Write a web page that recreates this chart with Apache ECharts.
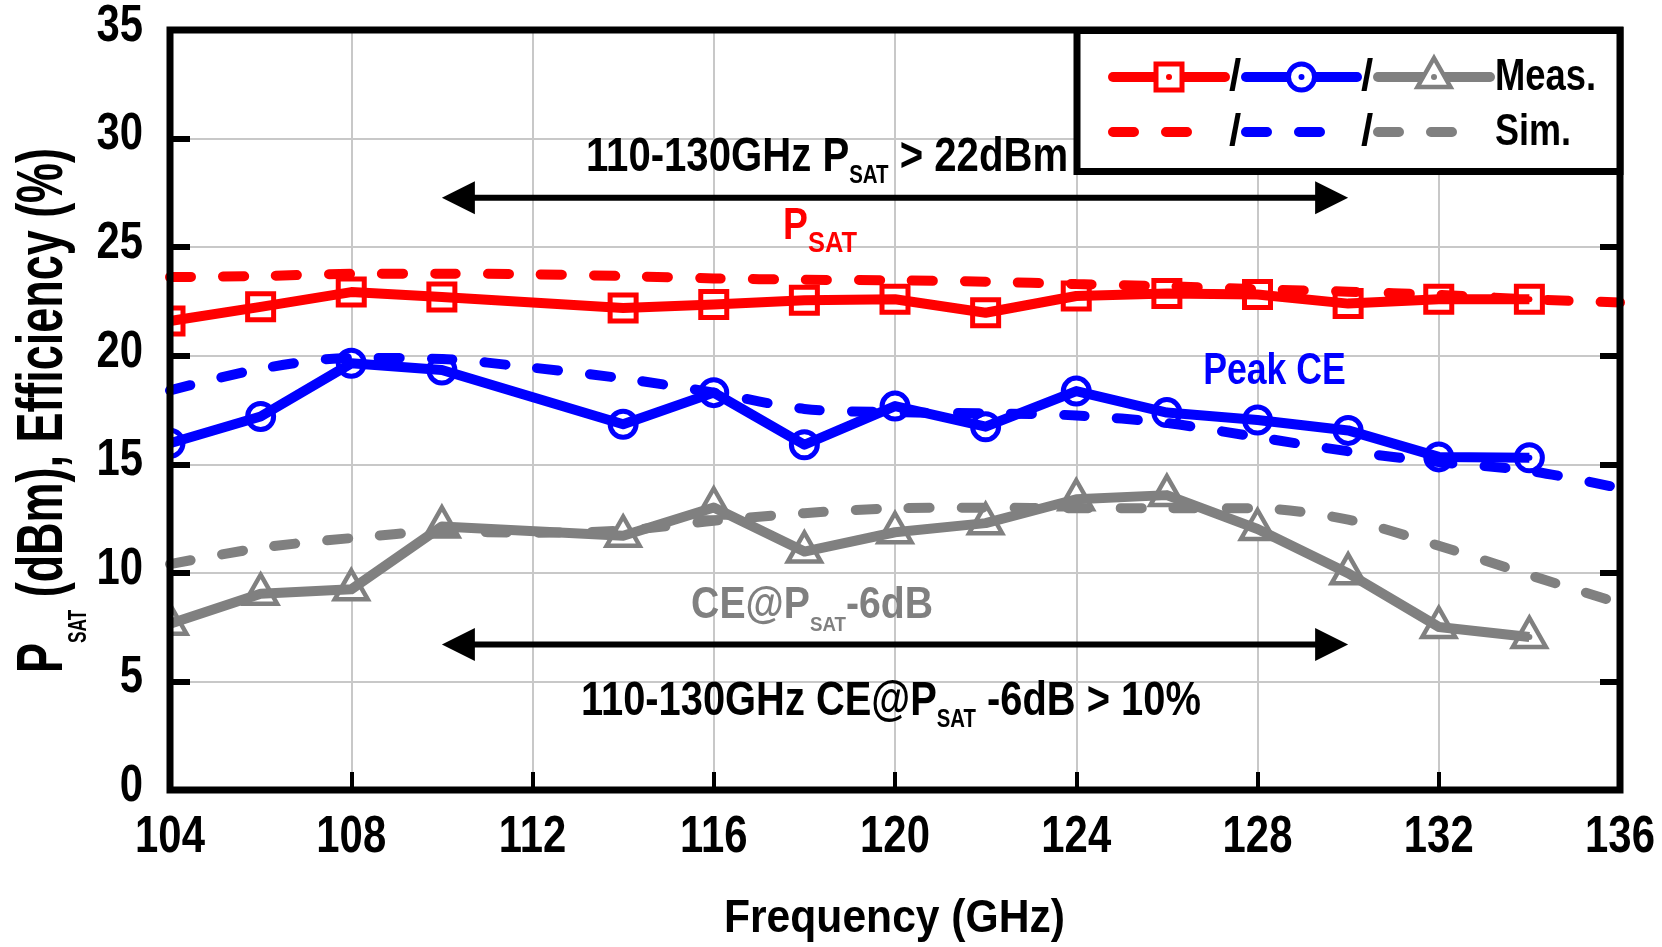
<!DOCTYPE html>
<html>
<head>
<meta charset="utf-8">
<script src="https://cdn.jsdelivr.net/npm/echarts@6/dist/echarts.min.js"></script>
<style>
  html, body { margin: 0; padding: 0; background: #fff; }
  #chart { width: 1662px; height: 947px; }
</style>
</head>
<body>
<div id="chart"></div>
<script>
// ---- axis ranges and tick labels ----
const X_MIN = 104, X_MAX = 136, X_STEP = 4;
const Y_MIN = 0, Y_MAX = 35, Y_STEP = 5;
const xTickLabels = [104, 108, 112, 116, 120, 124, 128, 132, 136];
const yTickLabels = [0, 5, 10, 15, 20, 25, 30, 35];

// ---- measured data (GHz) ----
const freqMeas = [104, 106, 108, 110, 114, 116, 118, 120, 122, 124, 126, 128, 130, 132, 134];
const psatMeas = [21.6, 22.25, 22.93, 22.7, 22.2, 22.36, 22.55, 22.6, 21.98, 22.75, 22.87, 22.82, 22.4, 22.6, 22.6];
const peakCeMeas = [15.97, 17.2, 19.65, 19.34, 16.84, 18.3, 15.9, 17.68, 16.73, 18.37, 17.38, 17.04, 16.56, 15.34, 15.3];
const ce6dbMeas = [7.66, 9.04, 9.24, 12.14, 11.71, 13.01, 10.98, 11.87, 12.29, 13.39, 13.58, 12.02, 9.98, 7.51, 7.05];

// ---- simulated data (GHz) ----
const freqSim = [104, 106, 108, 110, 112, 114, 116, 118, 120, 122, 124, 126, 128, 130, 132, 134, 136];
const psatSim = [23.62, 23.67, 23.77, 23.78, 23.75, 23.67, 23.56, 23.5, 23.47, 23.41, 23.3, 23.2, 23.06, 22.95, 22.8, 22.6, 22.45];
const peakCeSim = [18.4, 19.4, 19.9, 19.85, 19.45, 18.95, 18.3, 17.55, 17.4, 17.35, 17.25, 16.9, 16.25, 15.6, 15.1, 14.7, 13.9];
const ce6dbSim = [10.4, 11.15, 11.6, 11.9, 11.85, 11.95, 12.4, 12.75, 12.97, 13.0, 12.98, 12.98, 12.97, 12.45, 11.25, 9.9, 8.6];

// ---- annotations (data coordinates) ----
const rangeArrows = [
  { from: 110, to: 130, y: 27.27 },
  { from: 110, to: 130, y: 6.70 }
];
const notes = [
  { x0: 113.18, x1: 123.82, y: 28.35, color: '#000',
    parts: [{ t: '110-130GHz P', size: 49 }, { t: 'SAT', size: 25, dy: 10 }, { t: ' > 22dBm', size: 49 }] },
  { x0: 117.53, x1: 119.16, y: 25.22, color: '#ff0000',
    parts: [{ t: 'P', size: 44 }, { t: 'SAT', size: 30, dy: 12 }] },
  { x0: 126.8, x1: 129.95, y: 18.54, color: '#0000ff',
    parts: [{ t: 'Peak CE', size: 44 }] },
  { x0: 115.5, x1: 120.84, y: 7.76, color: '#808080',
    parts: [{ t: 'CE@P', size: 44 }, { t: 'SAT', size: 21, dy: 11 }, { t: '-6dB', size: 44 }] },
  { x0: 113.07, x1: 126.75, y: 3.29, color: '#000',
    parts: [{ t: '110-130GHz CE@P', size: 49 }, { t: 'SAT', size: 25, dy: 10 }, { t: ' -6dB > 10%', size: 49 }] }
];

const FONT = '"Liberation Sans Narrow", "Arial Narrow", "Liberation Sans", Arial, sans-serif';
const RED = '#ff0000', BLUE = '#0000ff', GRAY = '#808080';
const MID = 0.3467;     // distance from em-box middle to baseline, in em
const NARROW = 0.82;    // horizontal squeeze for the condensed face

const zip = (xs, ys) => xs.map((x, i) => [x, ys[i]]);

// marker shapes centred on a point
function markerShapes(kind, cx, cy, color, z) {
  let outline;
  if (kind === 'square') {
    outline = { type: 'rect', shape: { x: cx - 13, y: cy - 13, width: 26, height: 26 },
      style: { fill: '#fff', stroke: color, lineWidth: 5 } };
  } else if (kind === 'circle') {
    outline = { type: 'circle', shape: { cx: cx, cy: cy, r: 13 },
      style: { fill: '#fff', stroke: color, lineWidth: 5 } };
  } else {
    outline = { type: 'polygon', shape: { points: [[cx, cy - 19], [cx + 16.5, cy + 10], [cx - 16.5, cy + 10]] },
      style: { fill: '#fff', stroke: color, lineWidth: 4.5, lineJoin: 'miter' } };
  }
  const dot = { type: 'circle', shape: { cx: cx, cy: cy, r: 3 }, style: { fill: color } };
  if (z != null) { outline.z = z; dot.z = z; }
  return [outline, dot];
}

function measLine(name, xs, ys, color) {
  return { name: name, type: 'line', data: zip(xs, ys), symbol: 'none', clip: true,
    lineStyle: { color: color, width: 10, join: 'round' }, z: 2 };
}
function measMarkers(name, xs, ys, color, kind) {
  return { name: name, type: 'custom', coordinateSystem: 'cartesian2d', clip: true, z: 2,
    encode: { x: 0, y: 1 }, data: zip(xs, ys),
    renderItem: function (params, api) {
      const p = api.coord([api.value(0), api.value(1)]);
      return { type: 'group', children: markerShapes(kind, p[0], p[1], color) };
    } };
}
function simLine(name, xs, ys, color) {
  return { name: name, type: 'line', data: zip(xs, ys), symbol: 'none', clip: true, smooth: 0.3,
    lineStyle: { color: color, width: 10, type: [21, 32], cap: 'round' }, z: 2 };
}

const chart = echarts.init(document.getElementById('chart'), null, { renderer: 'canvas' });
chart.setOption({
  animation: false,
  backgroundColor: '#fff',
  grid: { left: 170, right: 42, top: 30, bottom: 157 },
  xAxis: {
    type: 'value', min: X_MIN, max: X_MAX, interval: X_STEP,
    axisLine: { show: false },
    axisTick: { show: true, inside: true, length: 18, lineStyle: { color: '#000', width: 4 } },
    splitLine: { show: true, showMinLine: false, showMaxLine: false, lineStyle: { color: '#c8c8c8', width: 2 } },
    axisLabel: { show: false }
  },
  yAxis: [
    { type: 'value', min: Y_MIN, max: Y_MAX, interval: Y_STEP, position: 'left',
      axisLine: { show: false },
      axisTick: { show: true, inside: true, length: 20, lineStyle: { color: '#000', width: 6 } },
      splitLine: { show: true, showMinLine: false, showMaxLine: false, lineStyle: { color: '#c8c8c8', width: 2 } },
      axisLabel: { show: false } },
    { type: 'value', min: Y_MIN, max: Y_MAX, interval: Y_STEP, position: 'right',
      axisLine: { show: false },
      axisTick: { show: true, inside: true, length: 20, lineStyle: { color: '#000', width: 6 } },
      splitLine: { show: false }, axisLabel: { show: false } }
  ],
  series: [
    measLine('PSAT meas', freqMeas, psatMeas, RED),
    measLine('Peak CE meas', freqMeas, peakCeMeas, BLUE),
    measLine('CE@PSAT-6dB meas', freqMeas, ce6dbMeas, GRAY),
    measMarkers('PSAT meas pts', freqMeas, psatMeas, RED, 'square'),
    measMarkers('Peak CE meas pts', freqMeas, peakCeMeas, BLUE, 'circle'),
    measMarkers('CE@PSAT-6dB meas pts', freqMeas, ce6dbMeas, GRAY, 'triangle'),
    simLine('PSAT sim', freqSim, psatSim, RED),
    simLine('Peak CE sim', freqSim, peakCeSim, BLUE),
    simLine('CE@PSAT-6dB sim', freqSim, ce6dbSim, GRAY)
  ]
});

// ---- overlay graphics: tick labels, frame, arrows, labels, legend ----
const mctx = document.createElement('canvas').getContext('2d');
function textWidth(t, size) {
  mctx.font = 'bold ' + size + 'px ' + FONT;
  return mctx.measureText(t).width;
}
// a run of text (with optional subscripts) laid out on one baseline,
// starting at local x = 0; squeezed to the given width, or by a fixed factor
function textRun(parts, color, x, y, width, z, rotation, squeeze) {
  let cursor = 0;
  const children = [];
  parts.forEach(function (p) {
    children.push({ type: 'text', x: cursor, y: (p.dy || 0) - MID * p.size, z: z,
      style: { text: p.t, fill: color, fontFamily: FONT, fontWeight: 'bold', fontSize: p.size,
        align: 'left', verticalAlign: 'middle' } });
    cursor += textWidth(p.t, p.size);
  });
  const sx = width ? width / cursor : (squeeze || 1);
  return { type: 'group', x: x, y: y, rotation: rotation || 0, scaleX: sx, children: children, _w: cursor * sx };
}

const px = (x, y) => chart.convertToPixel({ xAxisIndex: 0, yAxisIndex: 0 }, [x, y]);
const graphics = [];

// tick labels placed through the axis scales
const TICK_FONT = 51;
xTickLabels.forEach(function (v) {
  const p = px(v, Y_MIN);
  const w = textWidth(String(v), TICK_FONT) * NARROW;
  const g = textRun([{ t: String(v), size: TICK_FONT }], '#000', p[0] - w / 2, p[1] + 66, 0, 60, 0, NARROW);
  delete g._w; graphics.push(g);
});
yTickLabels.forEach(function (v) {
  const p = px(X_MIN, v);
  const w = textWidth(String(v), TICK_FONT) * NARROW;
  const g = textRun([{ t: String(v), size: TICK_FONT }], '#000', p[0] - 27 - w, p[1] + 14.5, 0, 60, 0, NARROW);
  delete g._w; graphics.push(g);
});

// plot frame
const tl = px(X_MIN, Y_MAX), br = px(X_MAX, Y_MIN);
graphics.push({ type: 'rect', z: 100, shape: { x: tl[0], y: tl[1], width: br[0] - tl[0], height: br[1] - tl[1] },
  style: { fill: 'none', stroke: '#000', lineWidth: 7 } });

// double-headed range arrows
rangeArrows.forEach(function (a) {
  const p0 = px(a.from, a.y), p1 = px(a.to, a.y);
  const head = 33, half = 16.5;
  graphics.push({ type: 'line', z: 60, shape: { x1: p0[0] + head - 2, y1: p0[1], x2: p1[0] - head + 2, y2: p1[1] },
    style: { stroke: '#000', lineWidth: 6 } });
  graphics.push({ type: 'polygon', z: 60, shape: { points: [[p0[0], p0[1]], [p0[0] + head, p0[1] - half], [p0[0] + head, p0[1] + half]] },
    style: { fill: '#000' } });
  graphics.push({ type: 'polygon', z: 60, shape: { points: [[p1[0], p1[1]], [p1[0] - head, p1[1] - half], [p1[0] - head, p1[1] + half]] },
    style: { fill: '#000' } });
});

// in-plot labels
notes.forEach(function (n) {
  const a = px(n.x0, n.y), b = px(n.x1, n.y);
  const g = textRun(n.parts, n.color, a[0], a[1], b[0] - a[0], 60);
  delete g._w; graphics.push(g);
});

// axis titles
[textRun([{ t: 'Frequency (GHz)', size: 47 }], '#000', 724, 935, 341, 60),
 textRun([{ t: 'P', size: 65 }, { t: 'SAT', size: 25, dy: 21 }, { t: ' (dBm), Efficiency (%)', size: 65 }],
   '#000', 67, 673, 525, 60, Math.PI / 2)
].forEach(function (g) { delete g._w; graphics.push(g); });

// legend box
const LG = { x: 1077, y: 30.5, w: 543, h: 141, row1: 77, row2: 132 };
graphics.push({ type: 'rect', z: 100, shape: { x: LG.x, y: LG.y, width: LG.w, height: LG.h },
  style: { fill: '#fff', stroke: '#000', lineWidth: 7 } });
const legendItems = [
  { color: RED, kind: 'square', x0: 1113, x1: 1225 },
  { color: BLUE, kind: 'circle', x0: 1246, x1: 1357 },
  { color: GRAY, kind: 'triangle', x0: 1378, x1: 1490 }
];
function pushText(g) { delete g._w; graphics.push(g); }
legendItems.forEach(function (it, i) {
  graphics.push({ type: 'line', z: 101, shape: { x1: it.x0, y1: LG.row1, x2: it.x1, y2: LG.row1 },
    style: { stroke: it.color, lineWidth: 10, lineCap: 'round' } });
  markerShapes(it.kind, (it.x0 + it.x1) / 2, LG.row1, it.color, 102).forEach(function (s) { graphics.push(s); });
  graphics.push({ type: 'line', z: 101, shape: { x1: it.x0, y1: LG.row2, x2: it.x0 + 83, y2: LG.row2 },
    style: { stroke: it.color, lineWidth: 10, lineCap: 'round', lineDash: [21, 32] } });
  if (i < 2) {
    pushText(textRun([{ t: '/', size: 44 }], '#000', it.x1 + 4, LG.row1 + 16, 0, 102));
    pushText(textRun([{ t: '/', size: 44 }], '#000', it.x1 + 4, LG.row2 + 16, 0, 102));
  }
});
pushText(textRun([{ t: 'Meas.', size: 44 }], '#000', 1495, 93, 101, 102));
pushText(textRun([{ t: 'Sim.', size: 44 }], '#000', 1495, 148, 76, 102));

chart.setOption({ graphic: graphics });
</script>
</body>
</html>
